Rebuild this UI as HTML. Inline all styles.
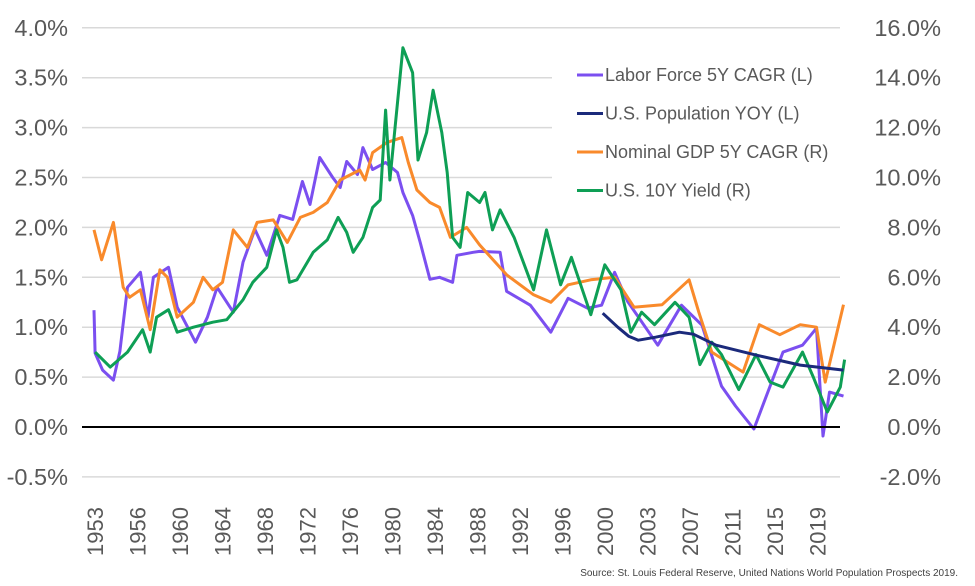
<!DOCTYPE html>
<html><head><meta charset="utf-8"><style>
html,body{margin:0;padding:0;background:#fff;}
svg{display:block;font-family:"Liberation Sans",sans-serif;}
</style></head><body>
<svg id="chart" width="975" height="586" viewBox="0 0 975 586" xmlns="http://www.w3.org/2000/svg">
<g id="grid"></g>
<g id="yl"></g>
<g id="yr"></g>
<g id="xa"></g>
<g id="series"></g>
<g id="legend"></g>
<text x="958" y="576" text-anchor="end" font-size="10" fill="#404040">Source: St. Louis Federal Reserve, United Nations World Population Prospects 2019.</text>
</svg>
<script>
const leftTicks=[-0.5,0,0.5,1,1.5,2,2.5,3,3.5,4];
const rightTicks=[-2,0,2,4,6,8,10,12,14,16];
const xLabels=["1953","1956","1960","1964","1968","1972","1976","1980","1984","1988","1992","1996","2000","2003","2007","2011","2015","2019"];

const laborYears=[1953.0,1953.1,1953.8,1954.8,1955.4,1956.1,1957.3,1958.0,1958.5,1959.9,1960.7,1962.4,1963.5,1964.4,1965.9,1966.8,1967.9,1969.0,1970.2,1971.4,1972.3,1973.0,1973.9,1975.1,1975.8,1976.4,1977.4,1977.9,1978.8,1980.0,1981.1,1981.6,1982.5,1983.2,1984.1,1985.0,1986.2,1986.6,1988.1,1988.7,1990.6,1991.2,1993.4,1995.3,1996.9,1998.7,2000.0,2001.2,2002.4,2005.2,2007.4,2009.3,2011.1,2012.4,2014.1,2015.6,2016.8,2018.6,2019.9,2020.5,2021.1,2022.4];
const laborValues=[1.17,0.74,0.57,0.47,0.76,1.4,1.55,1.1,1.5,1.6,1.2,0.85,1.1,1.4,1.15,1.65,1.98,1.72,2.12,2.08,2.46,2.23,2.7,2.5,2.4,2.66,2.53,2.8,2.58,2.65,2.55,2.35,2.12,1.85,1.48,1.5,1.45,1.72,1.75,1.76,1.75,1.36,1.22,0.95,1.29,1.19,1.22,1.55,1.26,0.82,1.22,1.02,0.41,0.21,-0.02,0.41,0.75,0.82,0.99,-0.09,0.35,0.31];

const popYears=[2000.1,2001.5,2002.5,2003.4,2005.0,2007.2,2008.5,2010.6,2014.3,2018.4,2022.4];
const popValues=[1.14,1.0,0.91,0.87,0.9,0.95,0.93,0.82,0.72,0.62,0.57];

const gdpYears=[1953.0,1953.7,1954.8,1955.7,1956.3,1957.3,1958.2,1959.1,1959.8,1960.7,1962.2,1963.1,1964.0,1964.9,1965.9,1967.2,1968.1,1969.6,1970.9,1972.1,1973.3,1974.6,1975.8,1977.6,1978.1,1978.8,1980.1,1981.5,1982.1,1982.9,1984.1,1985.0,1986.0,1987.5,1988.7,1991.2,1993.7,1995.3,1996.9,1999.0,2001.2,2003.0,2005.6,2008.1,2009.0,2010.2,2013.1,2014.6,2016.5,2018.4,2019.9,2020.7,2022.4];
const gdpValues=[7.9,6.7,8.2,5.6,5.2,5.5,3.9,6.3,6.0,4.4,5.0,6.0,5.5,5.8,7.9,7.2,8.2,8.3,7.4,8.4,8.6,9.0,9.9,10.3,9.9,11.0,11.4,11.6,10.6,9.5,9.0,8.8,7.6,8.0,7.3,6.1,5.3,5.0,5.7,5.9,6.0,4.8,4.9,5.9,4.6,3.0,2.2,4.1,3.7,4.1,4.0,1.8,4.9];

const yieldYears=[1953.1,1954.5,1956.1,1957.5,1958.2,1958.8,1959.9,1960.7,1962.2,1964.0,1965.3,1966.8,1967.7,1969.0,1969.9,1970.5,1971.1,1971.8,1973.3,1974.6,1975.6,1976.4,1977.0,1977.9,1978.8,1979.5,1980.0,1980.4,1981.1,1981.6,1982.5,1983.0,1983.8,1984.4,1985.2,1985.7,1986.2,1986.9,1987.6,1988.7,1989.2,1989.9,1990.6,1991.9,1993.7,1994.9,1996.2,1997.2,1999.0,2000.3,2001.8,2002.7,2003.7,2004.9,2006.8,2008.1,2009.1,2010.2,2011.1,2012.7,2014.3,2015.6,2016.8,2018.6,2019.6,2020.9,2022.1,2022.5];
const yieldValues=[3.0,2.4,3.0,3.9,3.0,4.4,4.7,3.8,4.0,4.2,4.3,5.1,5.8,6.4,7.9,7.2,5.8,5.9,7.0,7.5,8.4,7.8,7.0,7.6,8.8,9.1,12.7,9.9,13.0,15.2,14.2,10.7,11.8,13.5,11.8,10.2,7.6,7.2,9.4,9.0,9.4,7.9,8.7,7.6,5.5,7.9,5.7,6.8,4.5,6.5,5.5,3.8,4.6,4.1,5.0,4.4,2.5,3.4,2.9,1.5,2.9,1.8,1.6,3.0,2.0,0.6,1.6,2.7];

const NS="http://www.w3.org/2000/svg";
const X0=82,X1=840;
function xScale(yr){return 94+(yr-1953)*10.8;}
function yLeft(v){return 427-v*99.8;}
function yRight(v){return 427-v*99.8/4;}
function mk(tag,attrs,parent){const e=document.createElementNS(NS,tag);for(const k in attrs)e.setAttribute(k,attrs[k]);parent.appendChild(e);return e;}

const grid=document.getElementById('grid');
leftTicks.forEach(v=>{
  if(v===0)return;
  const l=mk('line',{x1:X0,x2:X1,y1:yLeft(v),y2:yLeft(v),stroke:'#d9d9d9','stroke-width':1.5},grid);
  
  
});
const yl=document.getElementById('yl');
leftTicks.forEach(v=>{
  const t=mk('text',{x:68,y:yLeft(v)+8,'text-anchor':'end','font-size':23.5,fill:'#595959'},yl);
  t.textContent=v.toFixed(1)+'%';
  
  
});
const yr=document.getElementById('yr');
rightTicks.forEach(v=>{
  const t=mk('text',{x:941,y:yRight(v)+8,'text-anchor':'end','font-size':23.5,fill:'#595959'},yr);
  t.textContent=v.toFixed(1)+'%';
  
  
});
const xa=document.getElementById('xa');
xLabels.forEach((s,i)=>{
  const x=95+i*42.5;
  const t=mk('text',{x:0,y:0,'text-anchor':'start','font-size':22,fill:'#595959',transform:`translate(${x+8},556) rotate(-90)`},xa);
  t.textContent=s;
  
  
});

const ser=document.getElementById('series');
function drawLine(years,vals,yf,color,name){
  const d=years.map((y,i)=>(i?'L':'M')+xScale(y).toFixed(1)+','+yf(vals[i]).toFixed(1)).join(' ');
  const p=mk('path',{d:d,fill:'none',stroke:color,'stroke-width':3,'stroke-linejoin':'round'},ser);
  
  
}
drawLine(laborYears,laborValues,yLeft,'#7B4FF0','labor-force-line');
drawLine(gdpYears,gdpValues,yRight,'#F98A2B','nominal-gdp-line');
drawLine(yieldYears,yieldValues,yRight,'#0E9F55','ten-year-yield-line');
drawLine(popYears,popValues,yLeft,'#1B2A7B','population-line');
const zl=mk('line',{x1:X0,x2:X1,y1:yLeft(0),y2:yLeft(0),stroke:'#000','stroke-width':2},ser);



const lg=document.getElementById('legend');
const bg=mk('rect',{x:552,y:52,width:288,height:160,fill:'#fff'},lg);


const entries=[["Labor Force 5Y CAGR (L)","#7B4FF0"],["U.S. Population YOY (L)","#1B2A7B"],["Nominal GDP 5Y CAGR (R)","#F98A2B"],["U.S. 10Y Yield (R)","#0E9F55"]];
entries.forEach((e,i)=>{
  const y=75+i*38.5;
  const g=mk('g',{},lg);
  
  
  mk('line',{x1:577,x2:603,y1:y,y2:y,stroke:e[1],'stroke-width':3},g);
  const t=mk('text',{x:605,y:y+6,'font-size':18,fill:'#595959'},g);
  t.textContent=e[0];
});
</script>
</body></html>
